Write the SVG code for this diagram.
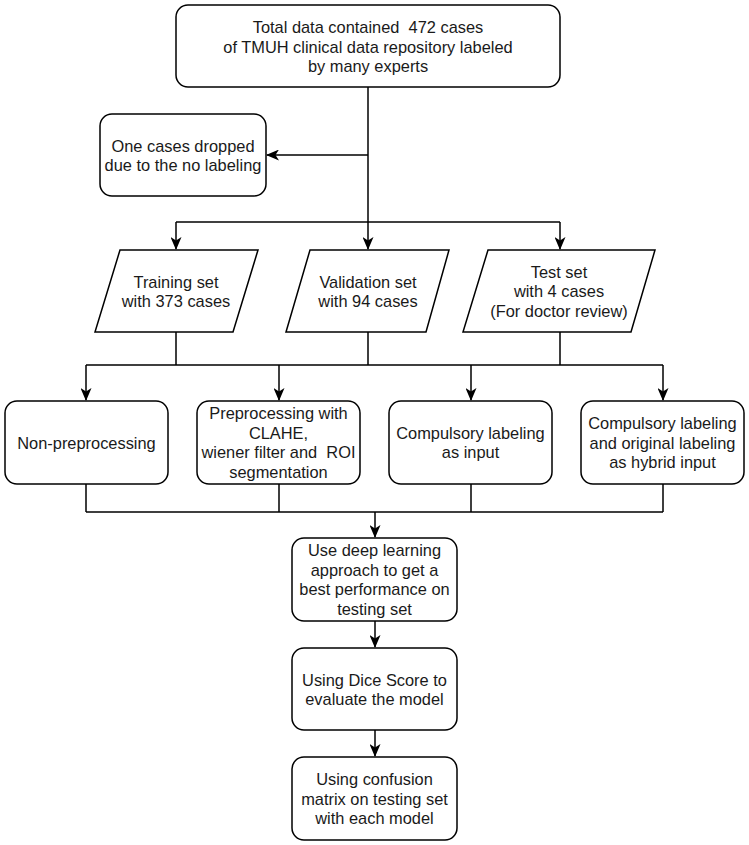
<svg xmlns="http://www.w3.org/2000/svg" width="749" height="845" viewBox="0 0 749 845">
<style>
.n{fill:#fff;stroke:#000;stroke-width:1.5}
.c{fill:none;stroke:#000;stroke-width:1.5}
text{font-family:"Liberation Sans",Arial,sans-serif;font-size:16.4px;fill:#1a1a1a;text-anchor:middle;dominant-baseline:central;white-space:pre}
</style>
<defs>
<marker id="a" markerUnits="userSpaceOnUse" markerWidth="13" markerHeight="11" viewBox="0 0 13 11" refX="12" refY="5.5" orient="auto">
<path d="M0,0 L13,5.5 L0,11 L3.5,5.5 Z" fill="#000"/>
</marker>
</defs>
<rect width="749" height="845" fill="#fff"/>
<g id="connectors">
<path class="c" d="M368,87 V249" marker-end="url(#a)"/>
<path class="c" d="M368,155 H267" marker-end="url(#a)"/>
<path class="c" d="M176,222 H560"/>
<path class="c" d="M176,222 V249" marker-end="url(#a)"/>
<path class="c" d="M560,222 V249" marker-end="url(#a)"/>
<path class="c" d="M176,332 V365 M368,332 V365 M560,332 V365 M86,365 H663"/>
<path class="c" d="M86,365 V400" marker-end="url(#a)"/>
<path class="c" d="M279,365 V400" marker-end="url(#a)"/>
<path class="c" d="M471,365 V400" marker-end="url(#a)"/>
<path class="c" d="M663,365 V400" marker-end="url(#a)"/>
<path class="c" d="M86,484 V512 M279,484 V512 M471,484 V512 M663,484 V512 M86,512 H663"/>
<path class="c" d="M375,512 V537" marker-end="url(#a)"/>
<path class="c" d="M375,621 V647" marker-end="url(#a)"/>
<path class="c" d="M375,730 V756" marker-end="url(#a)"/>
</g>
<g id="total">
<rect class="n" x="176" y="5" width="384" height="82" rx="12"/>
<text x="368" y="27" xml:space="preserve">Total data contained  472 cases</text>
<text x="368" y="46.5">of TMUH clinical data repository labeled</text>
<text x="368" y="66">by many experts</text>
</g>
<g id="dropped">
<rect class="n" x="100" y="114" width="166" height="82" rx="12"/>
<text x="183" y="145.5">One cases dropped</text>
<text x="183" y="165">due to the no labeling</text>
</g>
<g id="training">
<polygon class="n" points="120,250 258,250 233,332 95,332"/>
<text x="176" y="281.5">Training set</text>
<text x="176" y="301">with 373 cases</text>
</g>
<g id="validation">
<polygon class="n" points="310,250 449,250 426,332 286,332"/>
<text x="368" y="281.5">Validation set</text>
<text x="368" y="301">with 94 cases</text>
</g>
<g id="test">
<polygon class="n" points="488,250 655,250 631,332 463,332"/>
<text x="559" y="271.5">Test set</text>
<text x="559" y="291">with 4 cases</text>
<text x="559" y="310.5">(For doctor review)</text>
</g>
<g id="nonpre">
<rect class="n" x="5" y="401" width="163" height="83" rx="12"/>
<text x="86.5" y="442.5">Non-preprocessing</text>
</g>
<g id="prepro">
<rect class="n" x="197" y="401" width="163" height="83" rx="12"/>
<text x="278.5" y="413">Preprocessing with</text>
<text x="278.5" y="432.5">CLAHE,</text>
<text x="278.5" y="452" xml:space="preserve">wiener filter and  ROI</text>
<text x="278.5" y="471.5">segmentation</text>
</g>
<g id="compulsory">
<rect class="n" x="389" y="401" width="163" height="83" rx="12"/>
<text x="470.5" y="432.5">Compulsory labeling</text>
<text x="470.5" y="452">as input</text>
</g>
<g id="hybrid">
<rect class="n" x="581" y="401" width="163" height="83" rx="12"/>
<text x="662.5" y="423">Compulsory labeling</text>
<text x="662.5" y="442.5">and original labeling</text>
<text x="662.5" y="462">as hybrid input</text>
</g>
<g id="deep">
<rect class="n" x="292" y="538" width="165" height="83" rx="12"/>
<text x="374.5" y="550">Use deep learning</text>
<text x="374.5" y="569.5">approach to get a</text>
<text x="374.5" y="589">best performance on</text>
<text x="374.5" y="608.5">testing set</text>
</g>
<g id="dice">
<rect class="n" x="292" y="648" width="165" height="82" rx="12"/>
<text x="374.5" y="679.5">Using Dice Score to</text>
<text x="374.5" y="699">evaluate the model</text>
</g>
<g id="confusion">
<rect class="n" x="292" y="757" width="165" height="83" rx="12"/>
<text x="374.5" y="779">Using confusion</text>
<text x="374.5" y="798.5">matrix on testing set</text>
<text x="374.5" y="818">with each model</text>
</g>
</svg>
